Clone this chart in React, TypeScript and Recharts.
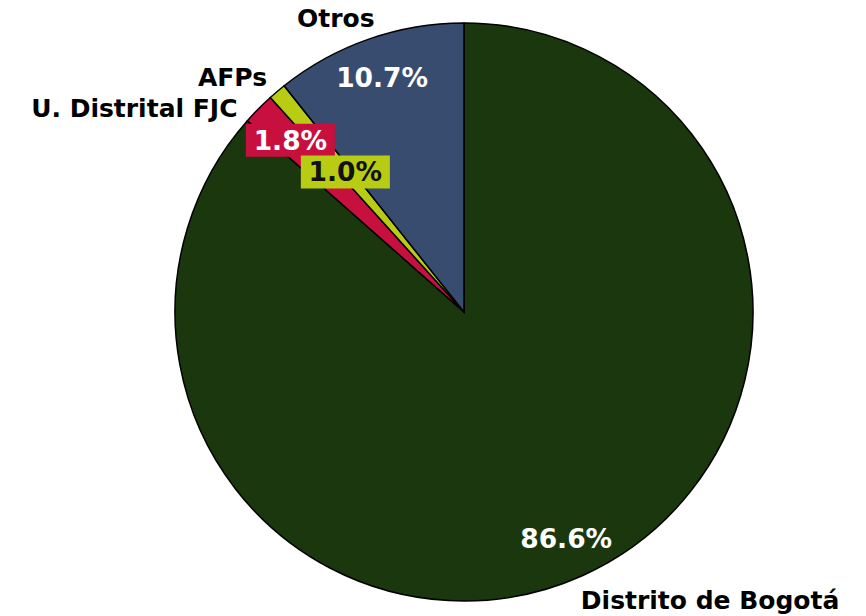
import React from 'react'
import { PieChart, Pie, Cell } from 'recharts'

const categories = ['Distrito de Bogotá', 'U. Distrital FJC', 'AFPs', 'Otros']
const shares = [86.6, 1.8, 1.0, 10.7]
const shareLabels = ['86.6%', '1.8%', '1.0%', '10.7%']

const colors = ['#1b370d', '#c8103f', '#b8cc14', '#374c6f']

// label layout per slice: inside radius factor, optional boxed background, outside name offset
const labelLayout = [
  { inR: 0.86, box: null, text: '#ffffff', anchor: 'start', dx: -2, dy: 34 },
  { inR: 0.845, box: '#c8103f', text: '#ffffff', anchor: 'end', dx: -21, dy: 8 },
  { inR: 0.635, box: '#b8cc14', text: '#111111', anchor: 'end', dx: -10, dy: -6 },
  { inR: 0.86, box: null, text: '#ffffff', anchor: 'middle', dx: -33, dy: -12 },
]

const data = categories.map((name, i) => ({ name, value: shares[i], label: shareLabels[i] }))

const RAD = Math.PI / 180
const FONT = '"DejaVu Sans", Verdana, sans-serif'

const renderLabel = (props: any) => {
  const { cx, cy, midAngle, outerRadius, index } = props
  const cfg = labelLayout[index]
  const cos = Math.cos(-midAngle * RAD)
  const sin = Math.sin(-midAngle * RAD)
  const ix = cx + outerRadius * cfg.inR * cos
  const iy = cy + outerRadius * cfg.inR * sin
  const ox = cx + outerRadius * cos + cfg.dx
  const oy = cy + outerRadius * sin + cfg.dy
  return (
    <g>
      {cfg.box && <rect x={ix - 44.5} y={iy - 16.5} width={89} height={33} fill={cfg.box} />}
      <text
        x={ix}
        y={iy}
        textAnchor="middle"
        dominantBaseline="central"
        fill={cfg.text}
        fontFamily={FONT}
        fontWeight="bold"
        fontSize={26.5}
      >
        {data[index].label}
      </text>
      <text
        x={ox}
        y={oy}
        textAnchor={cfg.anchor}
        fill="#000000"
        fontFamily={FONT}
        fontWeight="bold"
        fontSize={25}
      >
        {data[index].name}
      </text>
    </g>
  )
}

export default function App() {
  return (
    <div style={{ position: 'absolute', left: 0, top: 0, width: 866, height: 616, background: '#fff' }}>
      <PieChart width={866} height={616} margin={{ top: 0, right: 0, bottom: 0, left: 0 }}>
        <Pie
          data={data}
          dataKey="value"
          nameKey="name"
          cx={464}
          cy={312}
          outerRadius={289}
          startAngle={90}
          endAngle={-270}
          stroke="#000000"
          strokeWidth={1.5}
          label={renderLabel}
          labelLine={false}
          isAnimationActive={false}
        >
          {data.map((d, i) => (
            <Cell key={d.name} fill={colors[i]} />
          ))}
        </Pie>
      </PieChart>
    </div>
  )
}
